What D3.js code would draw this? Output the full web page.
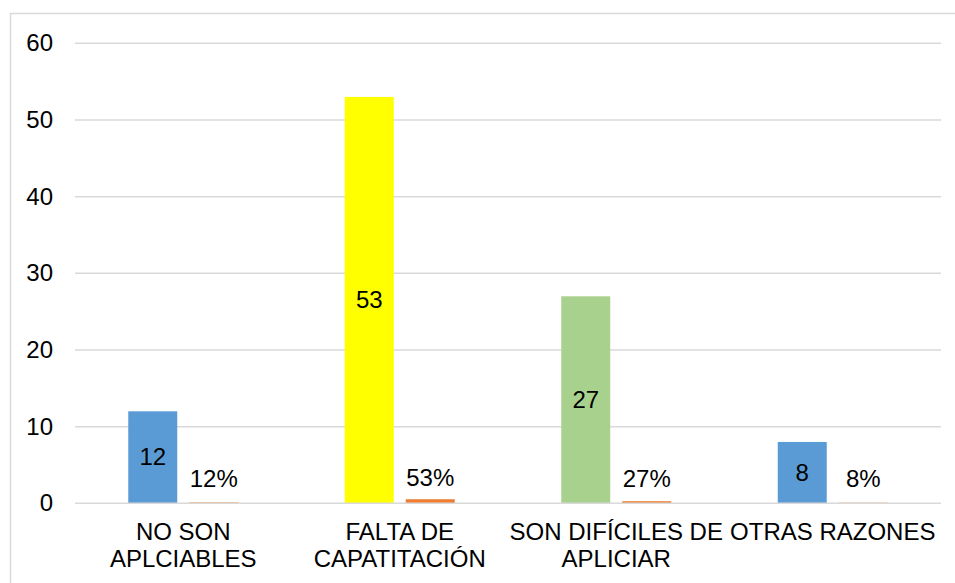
<!DOCTYPE html>
<html lang="es">
<head>
<meta charset="utf-8">
<title>Razones</title>
<script src="https://cdn.jsdelivr.net/npm/d3@7"></script>
<style>
  body { margin: 0; background: #fff; }
  text { font-family: "Liberation Sans", Arial, sans-serif; fill: #000; font-size: 24px; }
</style>
</head>
<body>
<script>

// categories (line breaks as in the original)
var categories = ["NO SON\nAPLCIABLES", "FALTA DE\nCAPATITACIÓN", "SON DIFÍCILES DE\nAPLICIAR", "OTRAS RAZONES"];
var counts = [12, 53, 27, 8];
var shares = [0.12, 0.53, 0.27, 0.08];
var countColors = ["#5B9BD5", "#FFFF00", "#A9D18E", "#5B9BD5"];
var shareColor = "#ED7D31";
var yTicks = [0, 10, 20, 30, 40, 50, 60];

var W = 955, H = 583;
var plotLeft = 75, plotRight = 941, plotTop = 43.3, plotBottom = 503.3;

var svg = d3.select("body").append("svg")
	.attr("width", W)
	.attr("height", H);

// chart border
svg.append("rect")
	.attr("x", 10.5).attr("y", 13.5)
	.attr("width", W).attr("height", H)
	.attr("fill", "none")
	.attr("stroke", "#D9D9D9")
	.attr("stroke-width", 1.5);

var y = d3.scaleLinear().domain([0, 60]).range([plotBottom, plotTop]);
var x0 = d3.scaleBand().domain(d3.range(categories.length))
	.range([plotLeft, plotRight]).paddingInner(0.492).paddingOuter(0.246);
var x1 = d3.scaleBand().domain([0, 1])
	.range([0, x0.bandwidth()]).paddingInner(12 / 61);

// gridlines
svg.append("g").selectAll("line").data(yTicks.slice(1)).enter()
	.append("line")
	.attr("x1", plotLeft).attr("x2", plotRight)
	.attr("y1", function(d) { return y(d); })
	.attr("y2", function(d) { return y(d); })
	.attr("stroke", "#D9D9D9")
	.attr("stroke-width", 1.5);

// y tick labels
svg.append("g").selectAll("text").data(yTicks).enter()
	.append("text")
	.attr("x", 53)
	.attr("y", function(d) { return y(d) + 8; })
	.attr("text-anchor", "end")
	.text(function(d) { return d; });

var groups = svg.append("g").selectAll("g").data(categories).enter()
	.append("g")
	.attr("transform", function(d, i) { return "translate(" + x0(i) + ",0)"; });

// count bars
groups.append("rect")
	.attr("x", x1(0))
	.attr("width", x1.bandwidth())
	.attr("y", function(d, i) { return y(counts[i]); })
	.attr("height", function(d, i) { return y(0) - y(counts[i]); })
	.attr("fill", function(d, i) { return countColors[i]; });

// share bars
groups.append("rect")
	.attr("x", x1(1))
	.attr("width", x1.bandwidth())
	.attr("y", function(d, i) { return y(shares[i]); })
	.attr("height", function(d, i) { return y(0) - y(shares[i]); })
	.attr("fill", shareColor);

// axis line on top of bars
svg.append("line")
	.attr("x1", plotLeft).attr("x2", plotRight)
	.attr("y1", y(0)).attr("y2", y(0))
	.attr("stroke", "#D9D9D9")
	.attr("stroke-width", 1.5);

// count labels (centered in bar)
groups.append("text")
	.attr("x", x1(0) + x1.bandwidth() / 2)
	.attr("y", function(d, i) { return (y(counts[i]) + y(0)) / 2 + 8; })
	.attr("text-anchor", "middle")
	.text(function(d, i) { return counts[i]; });

// share labels (above bar)
groups.append("text")
	.attr("x", x1(1) + x1.bandwidth() / 2)
	.attr("y", function(d, i) { return Math.min(y(shares[i]) - 13, 487); })
	.attr("text-anchor", "middle")
	.text(function(d, i) { return Math.round(shares[i] * 100) + "%"; });

// category labels
groups.append("text")
	.attr("text-anchor", "middle")
	.each(function(d) {
		var t = d3.select(this);
		d.split("\n").forEach(function(line, k) {
			t.append("tspan")
				.attr("x", x0.bandwidth() / 2)
				.attr("y", 540 + k * 27)
				.text(line);
		});
	});

</script>
</body>
</html>
